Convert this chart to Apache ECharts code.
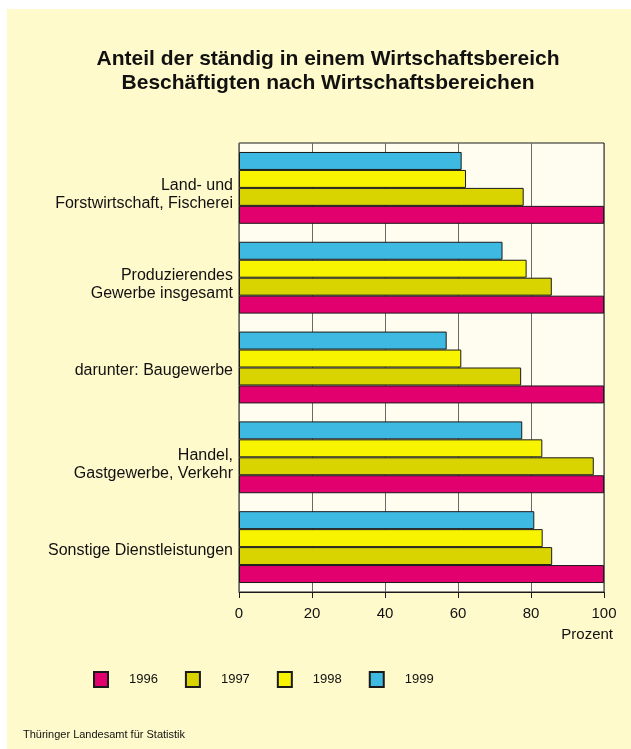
<!DOCTYPE html>
<html>
<head>
<meta charset="utf-8">
<script src="https://cdn.jsdelivr.net/npm/echarts@6/dist/echarts.min.js"></script>
<style>
html,body{margin:0;padding:0;background:#ffffff;}
#chart{width:631px;height:749px;}
</style>
</head>
<body>
<div id="chart"></div>
<script>
var categories = [
  'Land- und\nForstwirtschaft, Fischerei',
  'Produzierendes\nGewerbe insgesamt',
  'darunter: Baugewerbe',
  'Handel,\nGastgewerbe, Verkehr',
  'Sonstige Dienstleistungen'
];
var years = ['1996', '1997', '1998', '1999'];
var v1996 = [100, 100, 100, 100, 100];
var v1997 = [78.0, 85.7, 77.3, 97.2, 85.8];
var v1998 = [62.2, 78.8, 60.9, 83.1, 83.2];
var v1999 = [61.0, 72.2, 56.9, 77.6, 80.9];
var xTicks = [0, 20, 40, 60, 80, 100];
var colors = ['#E2006F', '#D9D400', '#F8F400', '#3EB9E1'];

var FONT = '"Liberation Sans", Arial, sans-serif';
var chart = echarts.init(document.getElementById('chart'));
var values = [v1996, v1997, v1998, v1999];
var series = [];
// draw 1999 on top of each group, 1996 at the bottom
for (var i = years.length - 1; i >= 0; i--) {
  series.push({
    name: years[i],
    type: 'bar',
    data: values[i],
    barGap: '0%',
    barCategoryGap: '20%',
    itemStyle: { color: colors[i], borderColor: '#1a1a1a', borderWidth: 1 },
    emphasis: { disabled: true }
  });
}

chart.setOption({
  animation: false,
  backgroundColor: '#ffffff',
  textStyle: { fontFamily: FONT },
  graphic: [
    { type: 'rect', z: -10, silent: true, shape: { x: 7, y: 9, width: 624, height: 740 }, style: { fill: '#FFFACB' } },
    { type: 'text', x: 328, y: 47, style: {
        text: 'Anteil der ständig in einem Wirtschaftsbereich\nBeschäftigten nach Wirtschaftsbereichen',
        font: 'bold 21px ' + FONT, fill: '#111', align: 'center', textAlign: 'center', lineHeight: 24 } },
    { type: 'text', x: 613, y: 627, style: { text: 'Prozent', font: '15px ' + FONT, fill: '#111', align: 'right', textAlign: 'right' } },
    { type: 'text', x: 23, y: 729, style: { text: 'Thüringer Landesamt für Statistik', font: '11px ' + FONT, fill: '#111' } }
  ],
  legend: {
    data: years,
    left: 88,
    top: 666,
    icon: 'rect',
    itemWidth: 14,
    itemHeight: 15,
    itemGap: 27,
    textStyle: { fontSize: 13, color: '#111', padding: [0, 0, 0, 16] },
    selectedMode: false
  },
  grid: {
    left: 239, right: 27, top: 143, height: 449,
    show: true, backgroundColor: '#FFFDF0', borderColor: '#1a1a1a', borderWidth: 1,
    containLabel: false
  },
  xAxis: {
    type: 'value', min: 0, max: 100, interval: 20,
    axisLine: { show: true, lineStyle: { color: '#1a1a1a', width: 1 } },
    axisTick: { show: true, length: 6, lineStyle: { color: '#1a1a1a' } },
    axisLabel: { fontSize: 15, color: '#111', margin: 14,
      formatter: function (v) { return xTicks.indexOf(v) >= 0 ? String(v) : ''; } },
    splitLine: { show: true, lineStyle: { color: '#6a6a6a', width: 1 } }
  },
  yAxis: {
    type: 'category', data: categories, inverse: true,
    axisLine: { show: false }, axisTick: { show: false },
    axisLabel: {
      fontSize: 16, color: '#111', lineHeight: 18, margin: 6,
      formatter: function (v) {
        var lines = v.split('\n');
        var spacer = lines.length > 1 ? '{s2| }' : '{s1| }';
        return spacer + '\n' + lines.map(function (l) { return '{t|' + l + '}'; }).join('\n');
      },
      rich: {
        s1: { fontSize: 1, lineHeight: 6 },
        s2: { fontSize: 1, lineHeight: 14 },
        t: { fontSize: 16, color: '#111', lineHeight: 18, fontFamily: FONT }
      }
    }
  },
  series: series
});
</script>
</body>
</html>
